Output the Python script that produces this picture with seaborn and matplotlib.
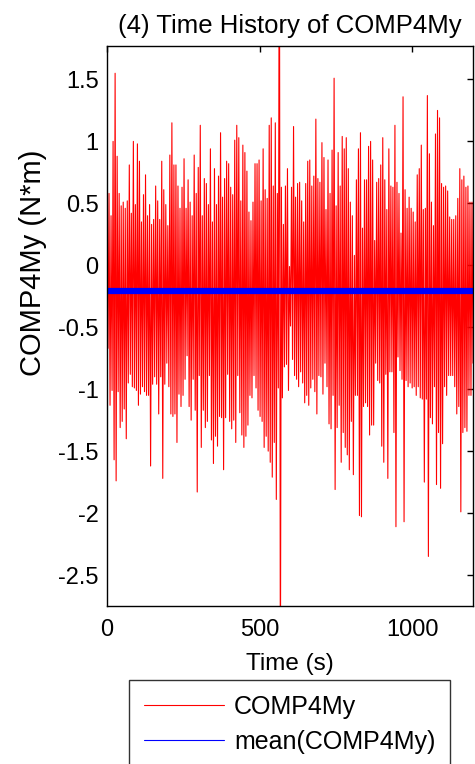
import numpy as np
import pandas as pd
import seaborn as sns
import matplotlib.pyplot as plt
from matplotlib.lines import Line2D

# upper swing of each oscillation, read left to right (N*m)
peaks = [0.54, 0.58, 0.40, 1.00, 1.55, 0.88, 0.58, 0.48, 0.51, 0.46,
         0.52, 0.81, 0.42, 1.00, 0.49, 0.98, 0.84, 0.35, 0.57, 0.73,
         0.40, 0.49, 0.33, 0.37, 0.64, 0.52, 0.37, 0.84, 0.61, 0.49,
         0.32, 0.89, 1.15, 0.81, 0.81, 0.64, 0.46, 0.63, 0.86, 0.46,
         0.69, 0.51, 0.40, 0.89, 0.58, 0.79, 1.13, 0.40, 0.70, 0.66,
         0.49, 0.94, 0.35, 0.78, 0.49, 0.72, 1.07, 0.55, 0.70, 0.84,
         0.82,
         0.63, 0.57, 1.01, 1.13, 1.03, 0.52, 0.97, 0.91, 0.76, 0.43,
         0.36, 0.51, 0.82, 0.82, 0.85, 0.52, 0.94, 0.61, 0.54, 1.13,
         1.19, 0.64, 1.15, 0.58, 3.50, 0.63, 0.33, 0.64, 0.78, -0.01,
         0.63, 1.12, 0.55, 0.66, 0.67, 0.52, 0.35, 0.66, 0.84, 0.85,
         0.64, 0.72, 1.18, 0.70, 0.67, 0.99, 0.87, 0.45, 0.85, 0.58,
         0.93, 1.51, 0.48, 0.91, 0.64, 1.04, 0.94, 1.03, 0.78,
         0.51, 0.40, 0.08, 0.69, 0.94, 1.07, 0.30, 0.69, 0.69, 0.96,
         1.00, 0.85, 0.20, 0.67, 0.70, 0.81, 1.03, 0.69, 0.45, 0.94,
         0.64, 0.63, 1.13, 0.67, 0.58, 0.26, 1.36, 0.61, 0.46, 0.55,
         0.46, 0.43, 0.35, 0.73, 0.78, 0.97, 0.45, 0.46, 1.37, 0.90,
         0.51, 0.32, 1.06, 1.25, 1.19, 0.66, 0.63, 0.64, 0.60, 0.39,
         0.37, 0.37, 0.40, 0.54, 0.78, 0.69, 0.72, 0.63, 0.64, 0.51,
         0.51]

# lower swing of each oscillation
troughs = [-0.67, -1.13, -1.01, -1.57, -1.74, -1.02, -1.31, -1.26, -1.16, -1.40,
           -0.95, -0.88, -0.98, -0.99, -1.01, -1.13, -1.04, -0.98, -1.02, -1.05,
           -1.05, -1.62, -0.96, -0.90, -0.96, -1.20, -0.90, -1.72, -0.96, -0.79,
           -0.98, -1.20, -1.22, -1.20, -1.43, -1.04, -1.14, -1.05, -0.92, -0.73,
           -1.14, -1.25, -0.92, -1.17, -1.83, -0.89, -1.47, -1.17, -1.31, -1.26,
           -0.89, -1.41, -1.60, -1.38, -1.46, -1.22, -1.23, -1.65, -1.23, -0.88,
           -1.26,
           -1.32, -1.25, -1.43, -0.89, -1.19, -1.37, -1.47, -1.38, -1.29, -1.05,
           -1.07, -0.89, -0.99, -1.17, -1.22, -1.26, -1.47, -1.38, -1.50, -1.59,
           -1.71, -1.43, -1.89, -0.99, -3.50, -1.07, -0.82, -0.80, -1.01, -0.49,
           -0.76, -0.89, -0.92, -0.98, -0.86, -0.95, -1.11, -1.05, -1.13, -0.99,
           -0.92, -1.02, -1.20, -0.89, -0.90, -1.04, -0.79, -0.98, -1.28, -1.32,
           -1.05, -1.81, -1.31, -1.13, -1.59, -1.35, -1.47, -1.53, -1.65,
           -1.26, -1.69, -1.05, -1.05, -2.02, -2.03, -1.14, -1.11, -1.14, -1.37,
           -1.29, -1.29, -0.79, -0.93, -0.95, -1.46, -1.59, -0.88, -1.72, -0.86,
           -0.86, -1.35, -2.11, -0.74, -0.85, -0.92, -2.07, -0.93, -0.98, -0.95,
           -0.99, -0.98, -1.05, -0.98, -1.07, -1.08, -1.75, -1.08, -2.35, -1.23,
           -1.28, -0.98, -1.77, -1.35, -1.80, -1.44, -0.98, -1.05, -0.89, -0.89,
           -0.89, -0.98, -1.20, -1.14, -1.99, -1.35, -1.31, -1.34, -1.05, -1.05,
           -0.79]

mean_value = -0.21
t_end = 1200

xticks = [0, 500, 1000]
yticks = [-2.5, -2, -1.5, -1, -0.5, 0, 0.5, 1, 1.5]
ytick_labels = ['-2.5', '-2', '-1.5', '-1', '-0.5', '0', '0.5', '1', '1.5']

sns.set_style('white')
plt.rcParams['font.family'] = ['Liberation Sans', 'DejaVu Sans']
plt.rcParams['text.color'] = 'black'
plt.rcParams['axes.labelcolor'] = 'black'

values = np.empty(2 * len(peaks))
values[0::2] = peaks
values[1::2] = troughs
time = np.linspace(0, t_end, len(values))
df = pd.DataFrame({'Time': time, 'COMP4My': values})

fig = plt.figure(figsize=(4.75, 7.64), dpi=100)
ax = fig.add_axes([107 / 475, 1 - 606 / 764, 366 / 475, 560 / 764])

sns.lineplot(data=df, x='Time', y='COMP4My', color='red', lw=0.8,
             estimator=None, sort=False, ax=ax)
ax.axhline(mean_value, color='blue', lw=4.5)

ax.set_xlim(0, t_end)
ax.set_ylim(-2.75, 1.77)
ax.set_xticks(xticks)
ax.set_xticklabels([str(x) for x in xticks])
ax.set_yticks(yticks)
ax.set_yticklabels(ytick_labels)
ax.tick_params(direction='in', top=True, right=True, length=4, width=1,
               labelsize=17, colors='black', pad=6)
ax.tick_params(axis='x', pad=9)
for s in ax.spines.values():
    s.set_color('black')
    s.set_linewidth(1)

ax.set_title('(4) Time History of COMP4My', fontsize=18.5, pad=9)
ax.set_xlabel('Time (s)', fontsize=17.5, labelpad=9)
ax.set_ylabel('COMP4My (N*m)', fontsize=21)
ax.yaxis.set_label_coords(-0.165, 0.6125)

handles = [Line2D([], [], color='red', lw=0.8), Line2D([], [], color='blue', lw=0.8)]
leg = fig.legend(handles, ['COMP4My', 'mean(COMP4My)'], loc='upper left',
                 bbox_to_anchor=(129 / 475, 1 - 680 / 764), frameon=True,
                 fancybox=False, edgecolor='black', fontsize=18,
                 handlelength=3.2, handletextpad=0.4, borderaxespad=0,
                 borderpad=0.6, labelspacing=0.42)
leg.get_frame().set_linewidth(1)

fig.savefig('out.png', dpi=100)
